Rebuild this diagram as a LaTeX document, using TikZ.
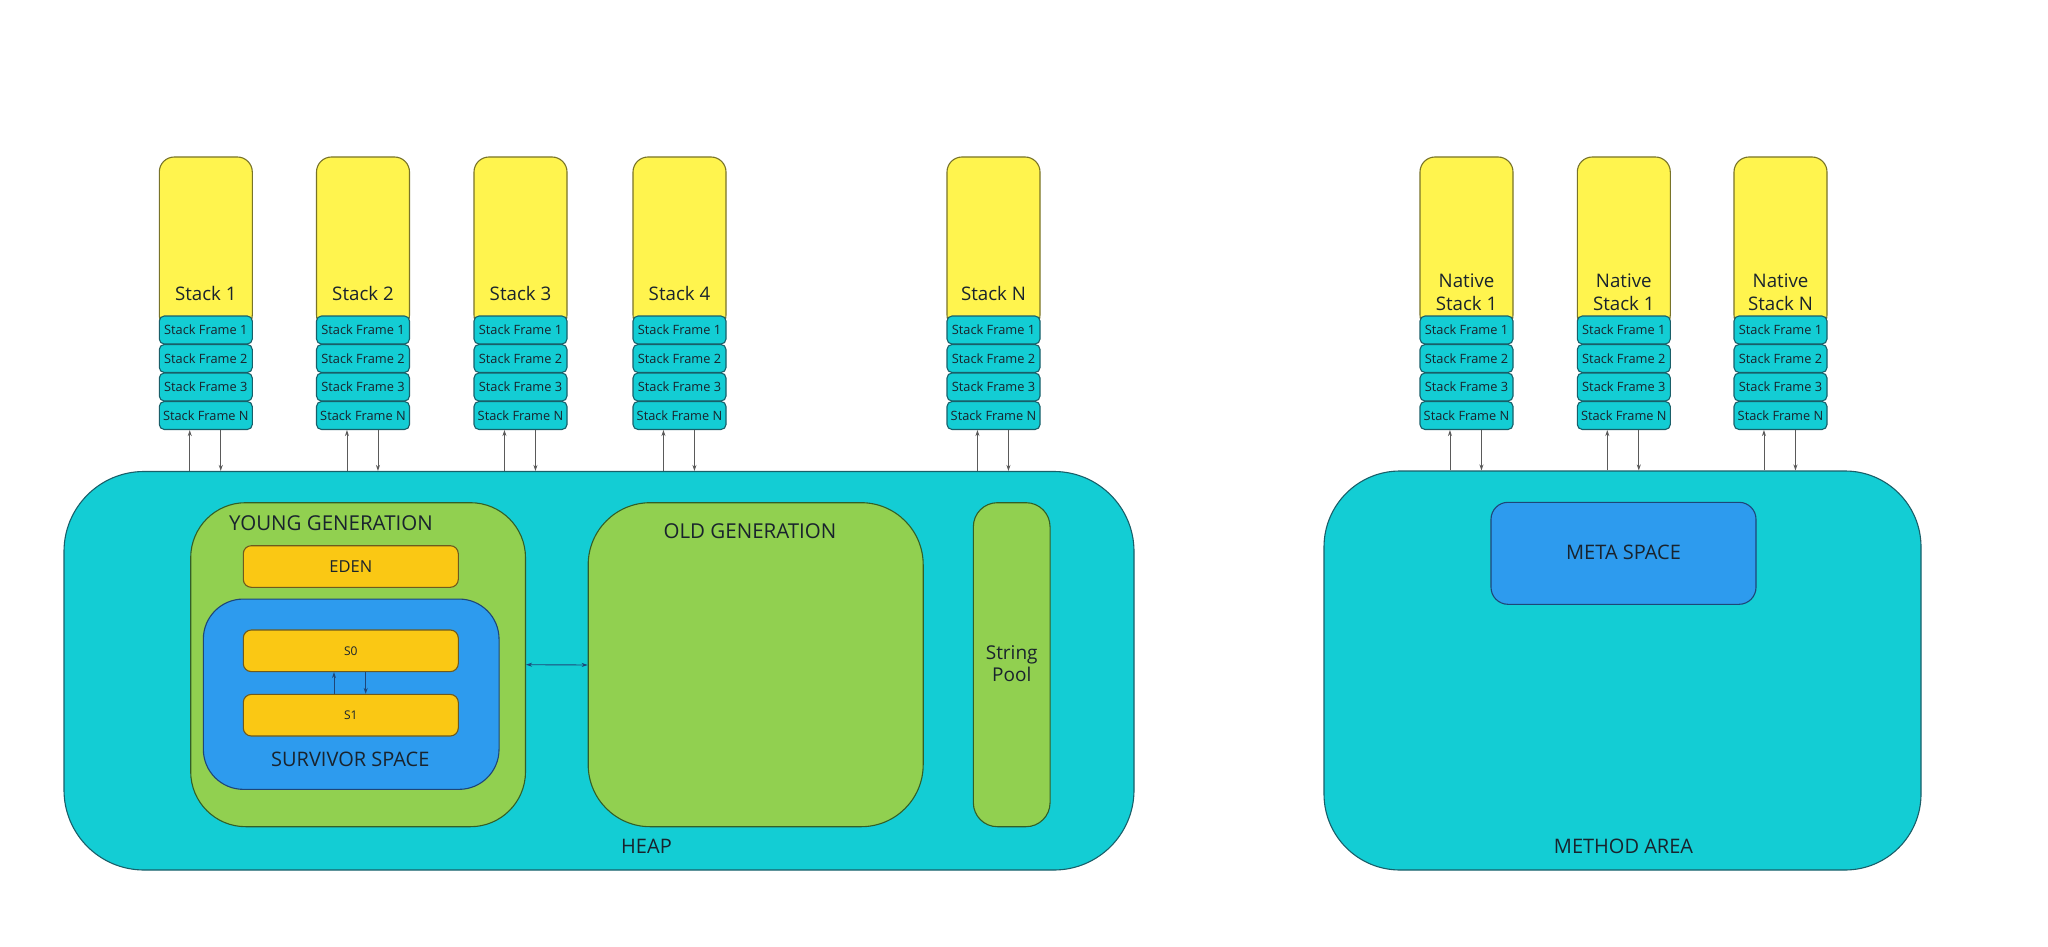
\documentclass[tikz,border=0pt]{standalone}
\usepackage{fontspec}
\setmainfont{Open Sans}
\usetikzlibrary{arrows.meta}
\definecolor{stkyellow}{RGB}{255,244,78}
\definecolor{stkborder}{RGB}{120,115,40}
\definecolor{cyanfill}{RGB}{19,205,212}
\definecolor{cyanborder}{RGB}{25,95,105}
\definecolor{greenfill}{RGB}{145,208,80}
\definecolor{greenborder}{RGB}{50,95,40}
\definecolor{goldfill}{RGB}{250,200,20}
\definecolor{goldborder}{RGB}{110,90,30}
\definecolor{bluefill}{RGB}{45,155,238}
\definecolor{blueborder}{RGB}{30,70,120}
\definecolor{txt}{RGB}{25,35,45}
\definecolor{arrgray}{RGB}{90,90,90}
\tikzset{
  box/.style={draw, line width=1.1pt, inner sep=0pt, text=txt},
  stackbox/.style={box, fill=stkyellow, draw=stkborder, rounded corners=15pt, minimum width=93pt, minimum height=173pt},
  framebox/.style={box, fill=cyanfill, draw=cyanborder, rounded corners=5pt, minimum width=93pt, minimum height=28pt, font=\fontsize{12.8}{14}\selectfont},
  areabox/.style={box, fill=cyanfill, draw=cyanborder, rounded corners=80pt},
  genbox/.style={box, fill=greenfill, draw=greenborder},
  goldbox/.style={box, fill=goldfill, draw=goldborder, rounded corners=8pt, minimum width=215pt, minimum height=41.6pt},
  bluebox/.style={box, fill=bluefill, draw=blueborder},
  lbl/.style={text=txt, inner sep=0pt, font=\fontsize{20}{23.3}\selectfont, align=center},
  arr/.style={draw=arrgray, line width=0.9pt, -{Stealth[length=6pt,width=4pt]}},
  darr/.style={draw=blueborder, line width=0.9pt, {Stealth[length=6pt,width=4pt]}-{Stealth[length=6pt,width=4pt]}},
  sarr/.style={draw=blueborder, line width=0.9pt, -{Stealth[length=6pt,width=4pt]}}
}
\begin{document}
\begin{tikzpicture}[x=1pt,y=-1pt]
\useasboundingbox[fill=white] (0,0) rectangle (2048,947);

% Areas
\node[areabox, minimum width=1070pt, minimum height=398.5pt] (heap) at (599,670.75) {};
\node[areabox, rounded corners=76pt, minimum width=597pt, minimum height=399pt] (method) at (1622.5,670.5) {};

% Young generation
\node[genbox, rounded corners=55pt, minimum width=334.8pt, minimum height=324pt] (young) at (358.1,664.7) {};
\node[lbl, font=\fontsize{20.5}{24}\selectfont] (youngt) at (331,523.3) {YOUNG GENERATION};
\node[goldbox, font=\fontsize{16.5}{20}\selectfont] (eden) at (350.8,566.5) {EDEN};
\node[bluebox, rounded corners=40pt, minimum width=295.7pt, minimum height=190.3pt] (surv) at (351.2,694.2) {};
\node[goldbox, font=\fontsize{12}{14}\selectfont] (s0) at (350.8,650.8) {S0};
\node[goldbox, font=\fontsize{12}{14}\selectfont] (s1) at (350.8,715.2) {S1};
\node[lbl] (survt) at (350.3,759.3) {SURVIVOR SPACE};
\draw[sarr] ([xshift=-16.8pt]s1.north) -- ([xshift=-16.8pt]s0.south);
\draw[sarr] ([xshift=14.9pt]s0.south) -- ([xshift=14.9pt]s1.north);

% Old generation
\node[genbox, rounded corners=62pt, minimum width=335pt, minimum height=324pt] (old) at (755.7,664.7) {};
\node[lbl, font=\fontsize{20.5}{24}\selectfont] (oldt) at (750,531.5) {OLD GENERATION};
\draw[darr] ([yshift=0.3pt]young.east |- 0,665) -- (old.west |- 0,665);

% String pool
\node[genbox, rounded corners=24pt, minimum width=76.7pt, minimum height=324pt] (pool) at (1011.7,664.7) {};
\node[lbl, font=\fontsize{19}{22.7}\selectfont] (poolt) at (1011.7,663.6) {String\\Pool};

\node[lbl] (heapt) at (646.5,846) {HEAP};

% Meta space
\node[bluebox, rounded corners=17pt, minimum width=265pt, minimum height=102pt] (meta) at (1623.5,553.3) {};
\node[lbl] (metat) at (1623.5,552.5) {META SPACE};
\node[lbl] (methodt) at (1623.5,846) {METHOD AREA};

% Java stacks
\foreach \i/\l/\t in {1/159.3/Stack 1, 2/316.5/Stack 2, 3/474/Stack 3, 4/633/Stack 4, 5/947/Stack N}{
  \node[stackbox] (st\i) at (\l+46.5,243.5) {};
  \node[lbl, font=\fontsize{18.7}{22}\selectfont] (st\i t) at (\l+46.5,293) {\t};
  \node[framebox] (st\i f1) at (\l+46.5,330) {Stack Frame 1};
  \node[framebox] (st\i f2) at (\l+46.5,358.5) {Stack Frame 2};
  \node[framebox] (st\i f3) at (\l+46.5,387) {Stack Frame 3};
  \node[framebox] (st\i f4) at (\l+46.5,415.5) {Stack Frame N};
  \draw[arr] ([xshift=31pt]st\i f4.south west |- heap.north) -- ([xshift=31pt]st\i f4.south west);
  \draw[arr] ([xshift=62pt]st\i f4.south west) -- ([xshift=62pt]st\i f4.south west |- heap.north);
}

% Native stacks
\foreach \i/\l/\t in {1/1420/Stack 1, 2/1577.3/Stack 1, 3/1734/Stack N}{
  \node[stackbox] (ns\i) at (\l+46.5,243.5) {};
  \node[lbl, font=\fontsize{18.7}{23.3}\selectfont] (ns\i t) at (\l+46.5,292.3) {Native\\\t};
  \node[framebox] (ns\i f1) at (\l+46.5,330) {Stack Frame 1};
  \node[framebox] (ns\i f2) at (\l+46.5,358.5) {Stack Frame 2};
  \node[framebox] (ns\i f3) at (\l+46.5,387) {Stack Frame 3};
  \node[framebox] (ns\i f4) at (\l+46.5,415.5) {Stack Frame N};
  \draw[arr] ([xshift=30.5pt]ns\i f4.south west |- method.north) -- ([xshift=30.5pt]ns\i f4.south west);
  \draw[arr] ([xshift=62pt]ns\i f4.south west) -- ([xshift=62pt]ns\i f4.south west |- method.north);
}
\end{tikzpicture}
\end{document}
